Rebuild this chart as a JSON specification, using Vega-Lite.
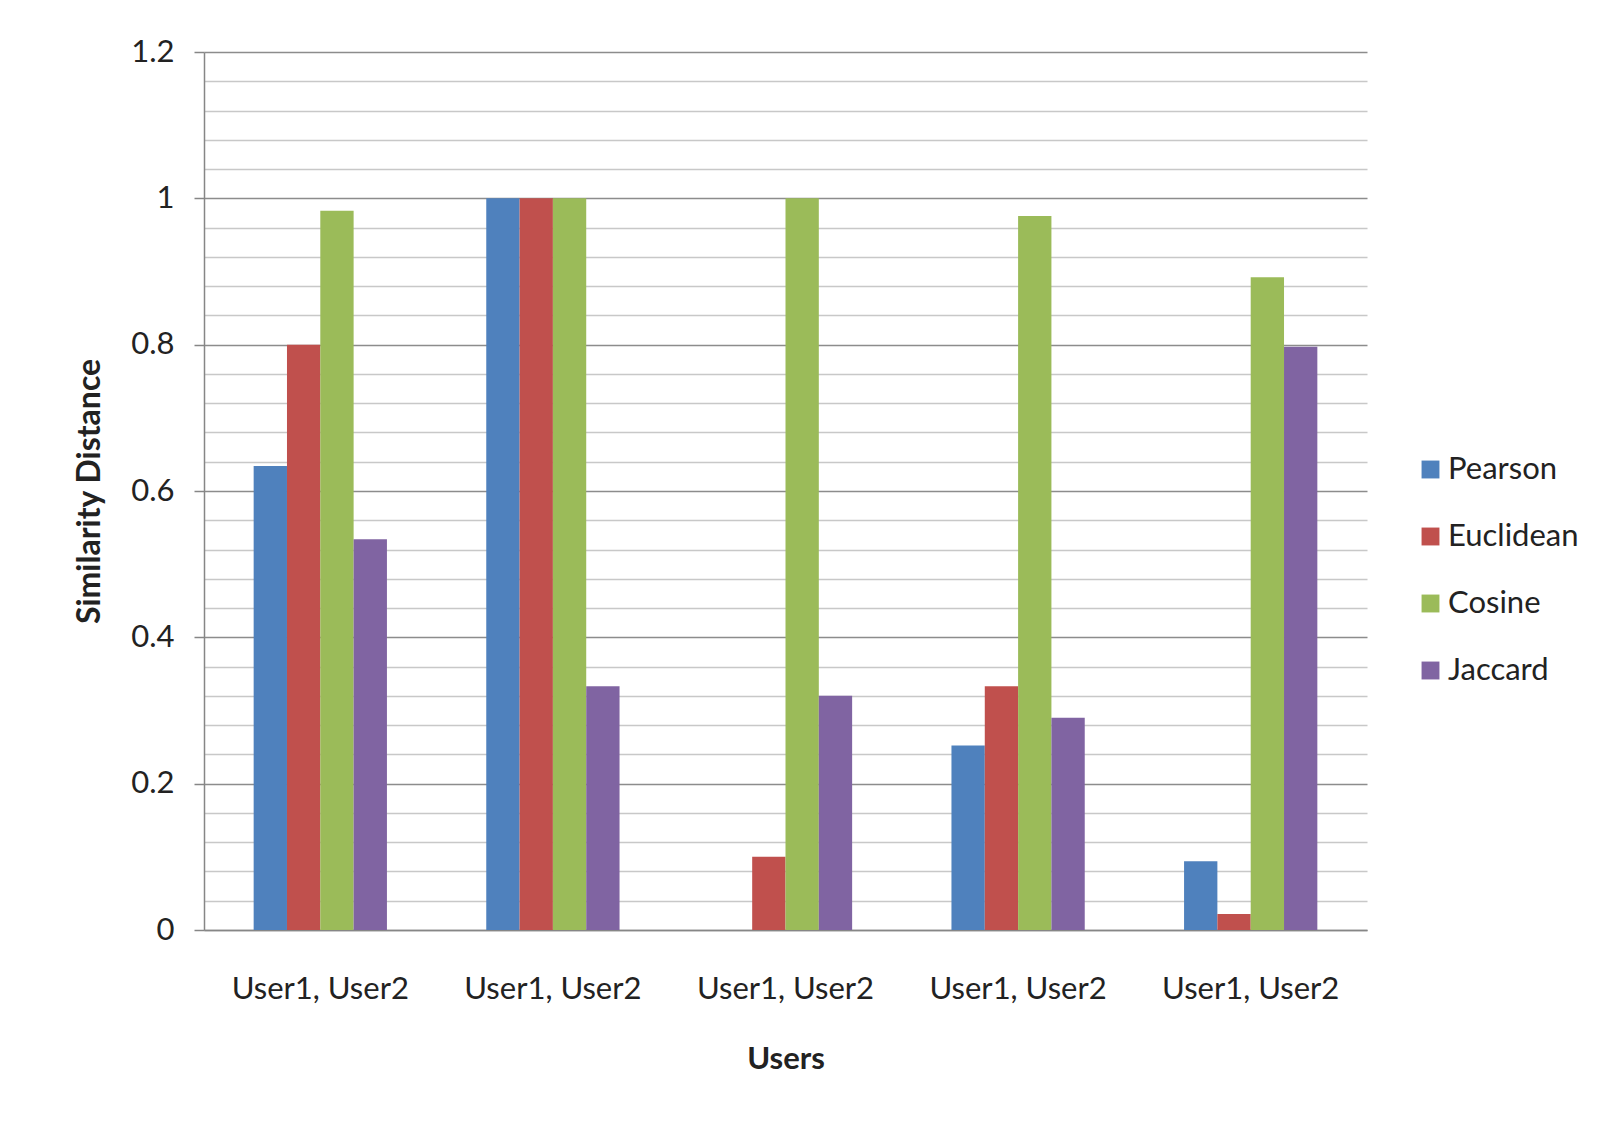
{
  "$schema": "https://vega.github.io/schema/vega-lite/v6.json",
  "width": 1163,
  "height": 878,
  "autosize": {"type": "none"},
  "padding": {"left": 204, "top": 52, "right": 239, "bottom": 201},
  "background": "white",
  "config": {
    "font": "Lato",
    "view": {"stroke": null}
  },
  "data": {
    "values": [
      {"pair": "g1", "measure": "Pearson", "value": 0.634},
      {"pair": "g1", "measure": "Euclidean", "value": 0.8},
      {"pair": "g1", "measure": "Cosine", "value": 0.983},
      {"pair": "g1", "measure": "Jaccard", "value": 0.534},
      {"pair": "g2", "measure": "Pearson", "value": 1.0},
      {"pair": "g2", "measure": "Euclidean", "value": 1.0},
      {"pair": "g2", "measure": "Cosine", "value": 1.0},
      {"pair": "g2", "measure": "Jaccard", "value": 0.333},
      {"pair": "g3", "measure": "Pearson", "value": 0},
      {"pair": "g3", "measure": "Euclidean", "value": 0.1},
      {"pair": "g3", "measure": "Cosine", "value": 1.0},
      {"pair": "g3", "measure": "Jaccard", "value": 0.32},
      {"pair": "g4", "measure": "Pearson", "value": 0.252},
      {"pair": "g4", "measure": "Euclidean", "value": 0.333},
      {"pair": "g4", "measure": "Cosine", "value": 0.976},
      {"pair": "g4", "measure": "Jaccard", "value": 0.29},
      {"pair": "g5", "measure": "Pearson", "value": 0.094},
      {"pair": "g5", "measure": "Euclidean", "value": 0.022},
      {"pair": "g5", "measure": "Cosine", "value": 0.892},
      {"pair": "g5", "measure": "Jaccard", "value": 0.797}
    ]
  },
  "mark": {"type": "bar"},
  "encoding": {
    "x": {
      "field": "pair",
      "type": "nominal",
      "sort": ["g1", "g2", "g3", "g4", "g5"],
      "scale": {"paddingInner": 0.427, "paddingOuter": 0.2135},
      "axis": {
        "title": "Users",
        "labelExpr": "'User1, User2'",
        "labelAngle": 0,
        "labelFontSize": 31,
        "labelColor": "#222222",
        "labelPadding": 44,
        "ticks": false,
        "domainColor": "#868686",
        "domainWidth": 1.5,
        "grid": false,
        "titleFontSize": 31,
        "titleFontWeight": "bold",
        "titleColor": "#222222",
        "titlePadding": 40
      }
    },
    "xOffset": {
      "field": "measure",
      "type": "nominal",
      "sort": ["Pearson", "Euclidean", "Cosine", "Jaccard"],
      "scale": {"paddingInner": 0, "paddingOuter": 0}
    },
    "y": {
      "field": "value",
      "type": "quantitative",
      "scale": {"domain": [0, 1.2], "nice": false},
      "axis": {
        "title": "Similarity Distance",
        "values": [0, 0.04, 0.08, 0.12, 0.16, 0.2, 0.24, 0.28, 0.32, 0.36, 0.4, 0.44, 0.48, 0.52, 0.56, 0.6, 0.64, 0.68, 0.72, 0.76, 0.8, 0.84, 0.88, 0.92, 0.96, 1.0, 1.04, 1.08, 1.12, 1.16, 1.2],
        "labelExpr": "abs(round(datum.value * 5) - datum.value * 5) < 0.001 ? format(round(datum.value * 5) / 5, '') : ''",
        "labelFontSize": 31,
        "labelColor": "#222222",
        "labelPadding": 20,
        "tickSize": 10,
        "tickColor": {
          "condition": {"test": "abs(round(datum.value * 5) - datum.value * 5) < 0.001", "value": "#868686"},
          "value": "rgba(0,0,0,0)"
        },
        "tickWidth": 1.5,
        "domainColor": "#868686",
        "domainWidth": 1.5,
        "grid": true,
        "gridColor": {
          "condition": {"test": "abs(round(datum.value * 5) - datum.value * 5) < 0.001", "value": "#8c8c8c"},
          "value": "#c8c8c8"
        },
        "gridWidth": 1.5,
        "titleFontSize": 32,
        "titleFontWeight": "bold",
        "titleColor": "#222222",
        "titlePadding": 24
      }
    },
    "color": {
      "field": "measure",
      "type": "nominal",
      "sort": ["Pearson", "Euclidean", "Cosine", "Jaccard"],
      "scale": {
        "domain": ["Pearson", "Euclidean", "Cosine", "Jaccard"],
        "range": ["#4F81BD", "#C0504D", "#9BBB59", "#8064A2"]
      },
      "legend": {
        "title": null,
        "orient": "none",
        "legendX": 1211,
        "legendY": 402,
        "symbolType": "square",
        "symbolSize": 320,
        "symbolStrokeWidth": 0,
        "labelFontSize": 31,
        "labelColor": "#222222",
        "labelOffset": 2,
        "rowPadding": 35
      }
    }
  }
}
